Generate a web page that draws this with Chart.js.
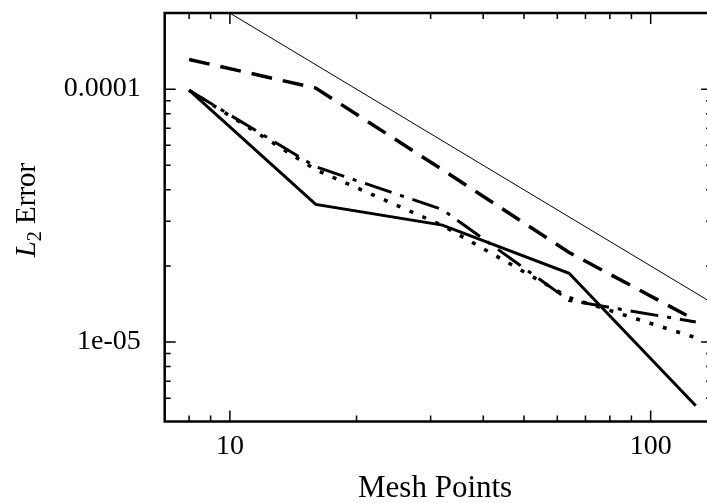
<!DOCTYPE html>
<html>
<head>
<meta charset="utf-8">
<script src="https://cdn.jsdelivr.net/npm/chart.js@4.4.0/dist/chart.umd.min.js"></script>
<style>
  html, body { margin: 0; padding: 0; background: #fff; }
  #wrap { width: 707px; height: 503px; }
</style>
</head>
<body>
<div id="wrap"><canvas id="errorChart" width="707" height="503"></canvas></div>
<script>
// Mesh sizes (x) and L2 errors
const meshPoints = [8, 16, 32, 64, 128];
const solidErr   = [9.9e-5, 3.5e-5, 2.9e-5, 1.87e-5, 5.6e-6];
const dashedErr  = [1.31e-4, 1.01e-4, 4.8e-5, 2.26e-5, 1.22e-5];
const dashDotErr = [9.9e-5, 4.93e-5, 3.34e-5, 1.46e-5, 1.2e-5];
const dottedErr  = [9.9e-5, 4.8e-5, 2.89e-5, 1.5e-5, 1.04e-5];

// thin first order reference line (end points, clipped by the frame)
const refX   = [9, 150];
const refErr = [2.22e-4, 1.333e-5];

// tick values and labels
const xMajorTicks = [10, 100];
const xTickLabels = ['10', '100'];
const xMinorTicks = [8, 9, 20, 30, 40, 50, 60, 70, 80, 90];
const yMajorTicks = [1e-5, 1e-4];
const yTickLabels = ['1e-05', '0.0001'];
const yMinorTicks = [6e-6, 7e-6, 8e-6, 9e-6, 2e-5, 3e-5, 4e-5, 5e-5, 6e-5, 7e-5, 8e-5, 9e-5];

// the frame's right edge sits just past the picture
const xFrameRight = 140;

const FONT = '"Liberation Serif", "Times New Roman", serif';

function toPoints(xs, ys) {
    return xs.map((x, i) => ({ x: x, y: ys[i] }));
}

// gnuplot style frame with inward ticks on all four sides
const framePlugin = {
    id: 'frameTicks',
    afterDraw(chart) {
        const ctx = chart.ctx;
        const a = chart.chartArea;
        const xs = chart.scales.x, ys = chart.scales.y;
        const right = xs.getPixelForValue(xFrameRight);
        ctx.save();
        ctx.strokeStyle = '#000';
        ctx.lineWidth = 1.5;
        ctx.beginPath();
        const xTick = (v, len) => {
            const px = xs.getPixelForValue(v);
            ctx.moveTo(px, a.bottom); ctx.lineTo(px, a.bottom - len);
            ctx.moveTo(px, a.top); ctx.lineTo(px, a.top + len);
        };
        const yTick = (v, len) => {
            const py = ys.getPixelForValue(v);
            ctx.moveTo(a.left, py); ctx.lineTo(a.left + len, py);
            ctx.moveTo(right, py); ctx.lineTo(right - len, py);
        };
        xMajorTicks.forEach(v => xTick(v, 11));
        xMinorTicks.forEach(v => xTick(v, 6));
        yMajorTicks.forEach(v => yTick(v, 11));
        yMinorTicks.forEach(v => yTick(v, 6));
        ctx.stroke();

        ctx.lineWidth = 2.5;
        ctx.strokeRect(a.left, a.top, right - a.left, a.bottom - a.top);

        // y axis title: italic L with subscript 2
        ctx.fillStyle = '#000';
        ctx.translate(25, 210);
        ctx.rotate(-Math.PI / 2);
        ctx.textBaseline = 'alphabetic';
        ctx.font = 'italic 29px ' + FONT;
        const wL = ctx.measureText('L').width;
        ctx.font = '20px ' + FONT;
        const w2 = ctx.measureText('2').width;
        ctx.font = '29px ' + FONT;
        const wE = ctx.measureText(' Error').width;
        let x0 = -(wL + w2 + wE) / 2;
        const base = 10;
        ctx.font = 'italic 29px ' + FONT;
        ctx.fillText('L', x0, base);
        x0 += wL;
        ctx.font = '20px ' + FONT;
        ctx.fillText('2', x0, base + 6);
        x0 += w2;
        ctx.font = '29px ' + FONT;
        ctx.fillText(' Error', x0, base);
        ctx.restore();
    }
};

function lineSet(data, dash, width) {
    return {
        data: data,
        borderColor: '#000',
        borderWidth: width,
        borderDash: dash,
        pointRadius: 0,
        tension: 0,
        fill: false,
        clip: { left: 0, top: 0, right: 8, bottom: 0 }
    };
}

new Chart(document.getElementById('errorChart').getContext('2d'), {
    type: 'line',
    data: {
        datasets: [
            lineSet(toPoints(refX, refErr), [], 1),
            lineSet(toPoints(meshPoints, dashedErr), [21, 11], 3.5),
            lineSet(toPoints(meshPoints, dashDotErr), [28, 9, 4, 9], 3),
            lineSet(toPoints(meshPoints, dottedErr), [4, 10], 3.5),
            lineSet(toPoints(meshPoints, solidErr), [], 3)
        ]
    },
    options: {
        responsive: false,
        animation: false,
        devicePixelRatio: 1,
        layout: { padding: { top: 13, right: 1.5, left: 0, bottom: 0 } },
        plugins: {
            legend: { display: false },
            tooltip: { enabled: false }
        },
        scales: {
            x: {
                type: 'logarithmic',
                min: 7,
                max: 135,
                grid: { display: false, drawTicks: false },
                border: { display: false },
                afterBuildTicks(s) { s.ticks = xMajorTicks.map(v => ({ value: v })); },
                afterFit(s) {
                    s.height = 81.5;
                    s.paddingLeft = 0;
                    s.paddingRight = 0;
                },
                ticks: {
                    color: '#000',
                    font: { family: FONT, size: 28 },
                    padding: 8,
                    maxRotation: 0,
                    autoSkip: false,
                    callback: (v) => xTickLabels[xMajorTicks.indexOf(v)]
                },
                title: {
                    display: true,
                    text: 'Mesh Points',
                    color: '#000',
                    font: { family: FONT, size: 31 },
                    padding: { top: 0, bottom: -4 }
                }
            },
            y: {
                type: 'logarithmic',
                min: 4.85e-6,
                max: 2e-4,
                grid: { display: false, drawTicks: false },
                border: { display: false },
                afterBuildTicks(s) { s.ticks = yMajorTicks.map(v => ({ value: v })); },
                afterFit(s) {
                    s.width = 164.7;
                    s.paddingTop = 0;
                    s.paddingBottom = 0;
                },
                ticks: {
                    color: '#000',
                    font: { family: FONT, size: 28 },
                    padding: 24,
                    autoSkip: false,
                    callback: (v) => yTickLabels[yMajorTicks.indexOf(v)]
                }
            }
        }
    },
    plugins: [framePlugin]
});
</script>
</body>
</html>
